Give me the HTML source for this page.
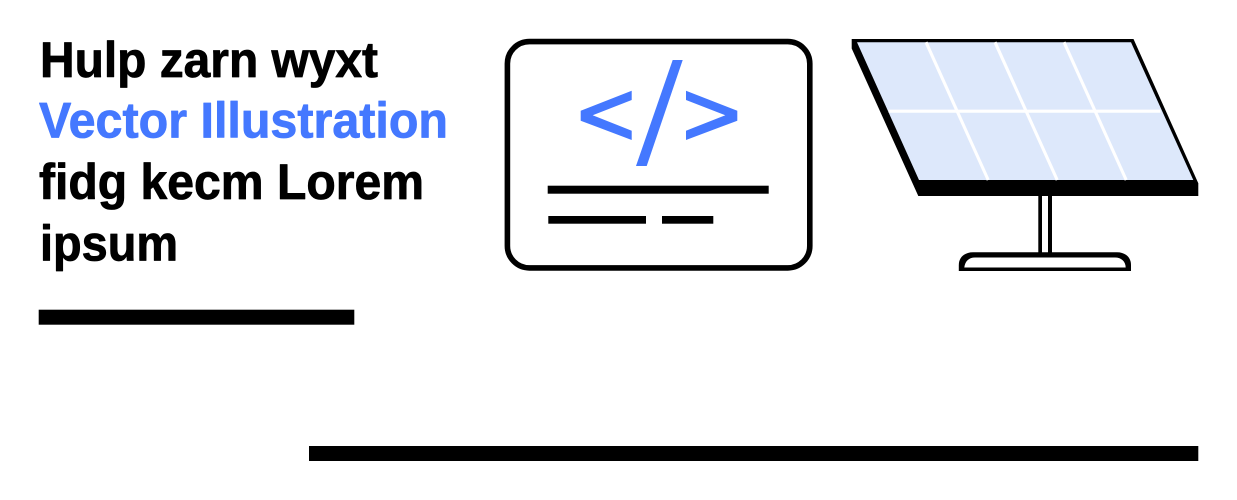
<!DOCTYPE html>
<html>
<head>
<meta charset="utf-8">
<style>
html,body{margin:0;padding:0;background:#fff;width:1237px;height:500px;overflow:hidden}
svg{display:block}
text{font-family:"Liberation Sans",sans-serif;font-weight:700;font-size:50px;stroke-width:0.8px;stroke-linejoin:round}
</style>
</head>
<body>
<svg width="1237" height="500" viewBox="0 0 1237 500" xmlns="http://www.w3.org/2000/svg">
<rect width="1237" height="500" fill="#fff"/>
<!-- Heading -->
<text x="40" y="77" fill="#000" stroke="#000" textLength="338" lengthAdjust="spacingAndGlyphs">Hulp zarn wyxt</text>
<text x="39" y="137.5" fill="#4478ff" stroke="#4478ff" textLength="409" lengthAdjust="spacingAndGlyphs">Vector Illustration</text>
<text x="39" y="199" fill="#000" stroke="#000" textLength="385" lengthAdjust="spacingAndGlyphs">fidg kecm Lorem</text>
<text x="40" y="260.5" fill="#000" stroke="#000" textLength="138" lengthAdjust="spacingAndGlyphs">ipsum</text>
<!-- Bars -->
<rect x="38.7" y="309.7" width="315.6" height="15" fill="#000"/>
<rect x="309" y="446" width="889.3" height="15" fill="#000"/>
<!-- Code card -->
<rect x="507.4" y="41.6" width="302.4" height="226.3" rx="22" ry="22" fill="#fff" stroke="#000" stroke-width="5.6"/>
<polygon points="631.7,90.7 631.7,100 592.7,115.3 631.7,130.7 631.7,140 580.7,120.7 580.7,110.7" fill="#4478ff"/>
<polygon points="672.7,60 682.7,60 646.7,166 636,166" fill="#4478ff"/>
<polygon points="686,90.7 737.3,110.7 737.3,120.7 686,140 686,130.7 725.3,115.3 686,100" fill="#4478ff"/>
<rect x="547.7" y="185.7" width="221" height="8" fill="#000"/>
<rect x="548.3" y="216" width="97.7" height="7.7" fill="#000"/>
<rect x="662" y="216" width="51.3" height="7.7" fill="#000"/>
<!-- Solar panel -->
<polygon points="851.7,39 1133.5,39 1198.3,183.3 1198.3,196 918.3,196 851.7,48.5" fill="#000"/>
<polygon points="857,42.2 1131,42.2 1193.3,180 919,180" fill="#dde8fb"/>
<g stroke="#fff" stroke-width="3.1" fill="none">
<line x1="926" y1="42.2" x2="988.2" y2="180"/>
<line x1="995" y1="42.2" x2="1057.2" y2="180"/>
<line x1="1064" y1="42.2" x2="1126.2" y2="180"/>
<line x1="888.5" y1="111.2" x2="1160.5" y2="111.2"/>
</g>
<!-- Stand -->
<rect x="1038.3" y="195" width="13.7" height="60" fill="#000"/>
<rect x="1042" y="196" width="6" height="57" fill="#fff"/>
<path d="M958.8,271 V265 C958.8,257 965,252.2 973,252.2 H1117 C1125,252.2 1131,257 1131,265 V271 Z" fill="#000"/>
<path d="M964.3,267.5 C965,261 969,257.5 975,257.5 H1115 C1121,257.5 1125.5,261 1125.7,267.5 Z" fill="#fff"/>
</svg>
</body>
</html>
